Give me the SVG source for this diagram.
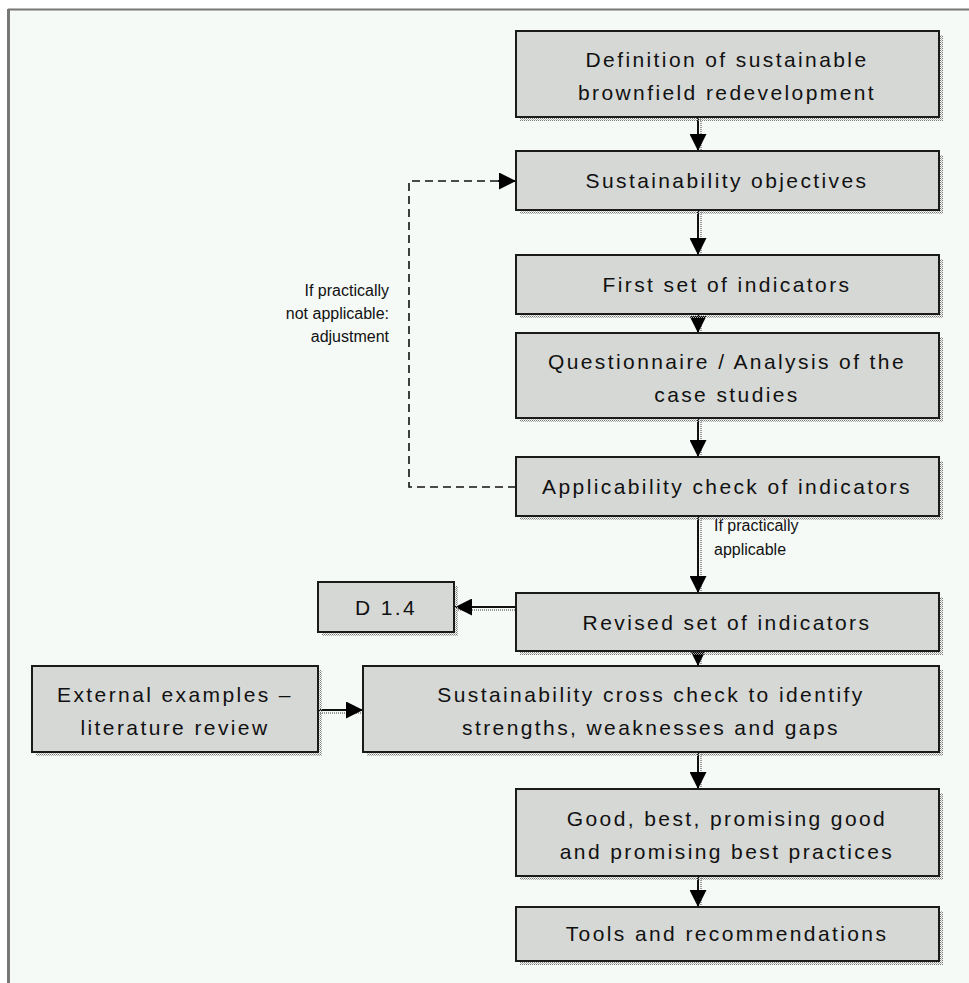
<svg xmlns="http://www.w3.org/2000/svg" width="969" height="983" viewBox="0 0 969 983">
<style>
  .box{fill:#d5d8d5;stroke:#1a1a1a;stroke-width:2}
  .shd{fill:url(#dots)}
  .t{font-family:"Liberation Sans",Arial,sans-serif;font-size:21px;letter-spacing:2.4px;fill:#111;text-anchor:middle}
  .s{font-family:"Liberation Sans",Arial,sans-serif;font-size:16px;fill:#111}
  .c{stroke:#111;stroke-width:2;fill:none}
  .cs{stroke:#999;stroke-width:2;stroke-dasharray:1 1;fill:none}
  .d{stroke:#111;stroke-width:1.6;fill:none;stroke-dasharray:8 5}
</style>
<defs>
  <pattern id="dots" width="2" height="2" patternUnits="userSpaceOnUse">
    <rect x="0" y="0" width="1" height="1" fill="#7a7a7a"/>
    <rect x="1" y="1" width="1" height="1" fill="#b0b0b0"/>
  </pattern>
  <marker id="ah" viewBox="0 0 16 16" refX="16" refY="8" markerWidth="17" markerHeight="17" markerUnits="userSpaceOnUse" orient="auto">
    <path d="M0,0 L16,8 L0,16 z" fill="#000"/>
  </marker>
</defs>
<rect x="0" y="0" width="969" height="983" fill="#ffffff"/>
<rect x="9" y="10" width="960" height="973" fill="#f5faf7"/>
<line x1="8" y1="9.5" x2="969" y2="9.5" stroke="#777" stroke-width="2"/>
<line x1="8.5" y1="9" x2="8.5" y2="983" stroke="#777" stroke-width="3"/>

<g id="connectors">
  <line class="cs" x1="701" y1="119" x2="701" y2="150"/>
  <line class="c" x1="698" y1="117" x2="698" y2="151" marker-end="url(#ah)"/>
  <line class="cs" x1="701" y1="212" x2="701" y2="254"/>
  <line class="c" x1="698" y1="210" x2="698" y2="255" marker-end="url(#ah)"/>
  <line class="cs" x1="701" y1="316" x2="701" y2="332"/>
  <line class="c" x1="698" y1="314" x2="698" y2="333" marker-end="url(#ah)"/>
  <line class="cs" x1="701" y1="420" x2="701" y2="456"/>
  <line class="c" x1="698" y1="418" x2="698" y2="457" marker-end="url(#ah)"/>
  <line class="cs" x1="701" y1="518" x2="701" y2="592"/>
  <line class="c" x1="698" y1="516" x2="698" y2="593" marker-end="url(#ah)"/>
  <line class="cs" x1="701" y1="653" x2="701" y2="665"/>
  <line class="c" x1="698" y1="651" x2="698" y2="666" marker-end="url(#ah)"/>
  <line class="cs" x1="701" y1="754" x2="701" y2="788"/>
  <line class="c" x1="698" y1="752" x2="698" y2="789" marker-end="url(#ah)"/>
  <line class="cs" x1="701" y1="878" x2="701" y2="906"/>
  <line class="c" x1="698" y1="876" x2="698" y2="907" marker-end="url(#ah)"/>
  <line class="cs" x1="515" y1="610" x2="458" y2="610"/>
  <line class="c" x1="516" y1="607" x2="455" y2="607" marker-end="url(#ah)"/>
  <line class="cs" x1="320" y1="713" x2="362" y2="713"/>
  <line class="c" x1="318" y1="710" x2="363" y2="710" marker-end="url(#ah)"/>
  <polyline class="d" points="516,487 409,487 409,181 500,181"/>
  <line class="c" x1="498" y1="181" x2="516" y2="181" marker-end="url(#ah)"/>
  <text class="s" x="389" y="296" text-anchor="end">If practically</text>
  <text class="s" x="389" y="319" text-anchor="end">not applicable:</text>
  <text class="s" x="389" y="342" text-anchor="end">adjustment</text>
  <text class="s" x="714" y="531">If practically</text>
  <text class="s" x="714" y="555">applicable</text>
</g>

<g id="n1">
  <rect class="shd" x="520" y="35" width="423" height="86"/>
  <rect class="box" x="516" y="31" width="423" height="86"/>
  <text class="t" x="727" y="67">Definition of sustainable</text>
  <text class="t" x="727" y="100">brownfield redevelopment</text>
</g>
<g id="n2">
  <rect class="shd" x="520" y="155" width="423" height="59"/>
  <rect class="box" x="516" y="151" width="423" height="59"/>
  <text class="t" x="727" y="188">Sustainability objectives</text>
</g>
<g id="n3">
  <rect class="shd" x="520" y="259" width="423" height="59"/>
  <rect class="box" x="516" y="255" width="423" height="59"/>
  <text class="t" x="727" y="292">First set of indicators</text>
</g>
<g id="n4">
  <rect class="shd" x="520" y="337" width="423" height="85"/>
  <rect class="box" x="516" y="333" width="423" height="85"/>
  <text class="t" x="727" y="369">Questionnaire / Analysis of the</text>
  <text class="t" x="727" y="402">case studies</text>
</g>
<g id="n5">
  <rect class="shd" x="520" y="461" width="423" height="59"/>
  <rect class="box" x="516" y="457" width="423" height="59"/>
  <text class="t" x="727" y="494">Applicability check of indicators</text>
</g>
<g id="n6">
  <rect class="shd" x="520" y="597" width="423" height="58"/>
  <rect class="box" x="516" y="593" width="423" height="58"/>
  <text class="t" x="727" y="630">Revised set of indicators</text>
</g>
<g id="n7">
  <rect class="shd" x="322" y="586" width="136" height="50"/>
  <rect class="box" x="318" y="582" width="136" height="50"/>
  <text class="t" x="386" y="615">D 1.4</text>
</g>
<g id="n8">
  <rect class="shd" x="36" y="670" width="286" height="86"/>
  <rect class="box" x="32" y="666" width="286" height="86"/>
  <text class="t" x="175" y="702">External examples –</text>
  <text class="t" x="175" y="735">literature review</text>
</g>
<g id="n9">
  <rect class="shd" x="367" y="670" width="576" height="86"/>
  <rect class="box" x="363" y="666" width="576" height="86"/>
  <text class="t" x="651" y="702">Sustainability cross check to identify</text>
  <text class="t" x="651" y="735">strengths, weaknesses and gaps</text>
</g>
<g id="n10">
  <rect class="shd" x="520" y="793" width="423" height="87"/>
  <rect class="box" x="516" y="789" width="423" height="87"/>
  <text class="t" x="727" y="826">Good, best, promising good</text>
  <text class="t" x="727" y="859">and promising best practices</text>
</g>
<g id="n11">
  <rect class="shd" x="520" y="911" width="423" height="54"/>
  <rect class="box" x="516" y="907" width="423" height="54"/>
  <text class="t" x="727" y="941">Tools and recommendations</text>
</g>
</svg>
